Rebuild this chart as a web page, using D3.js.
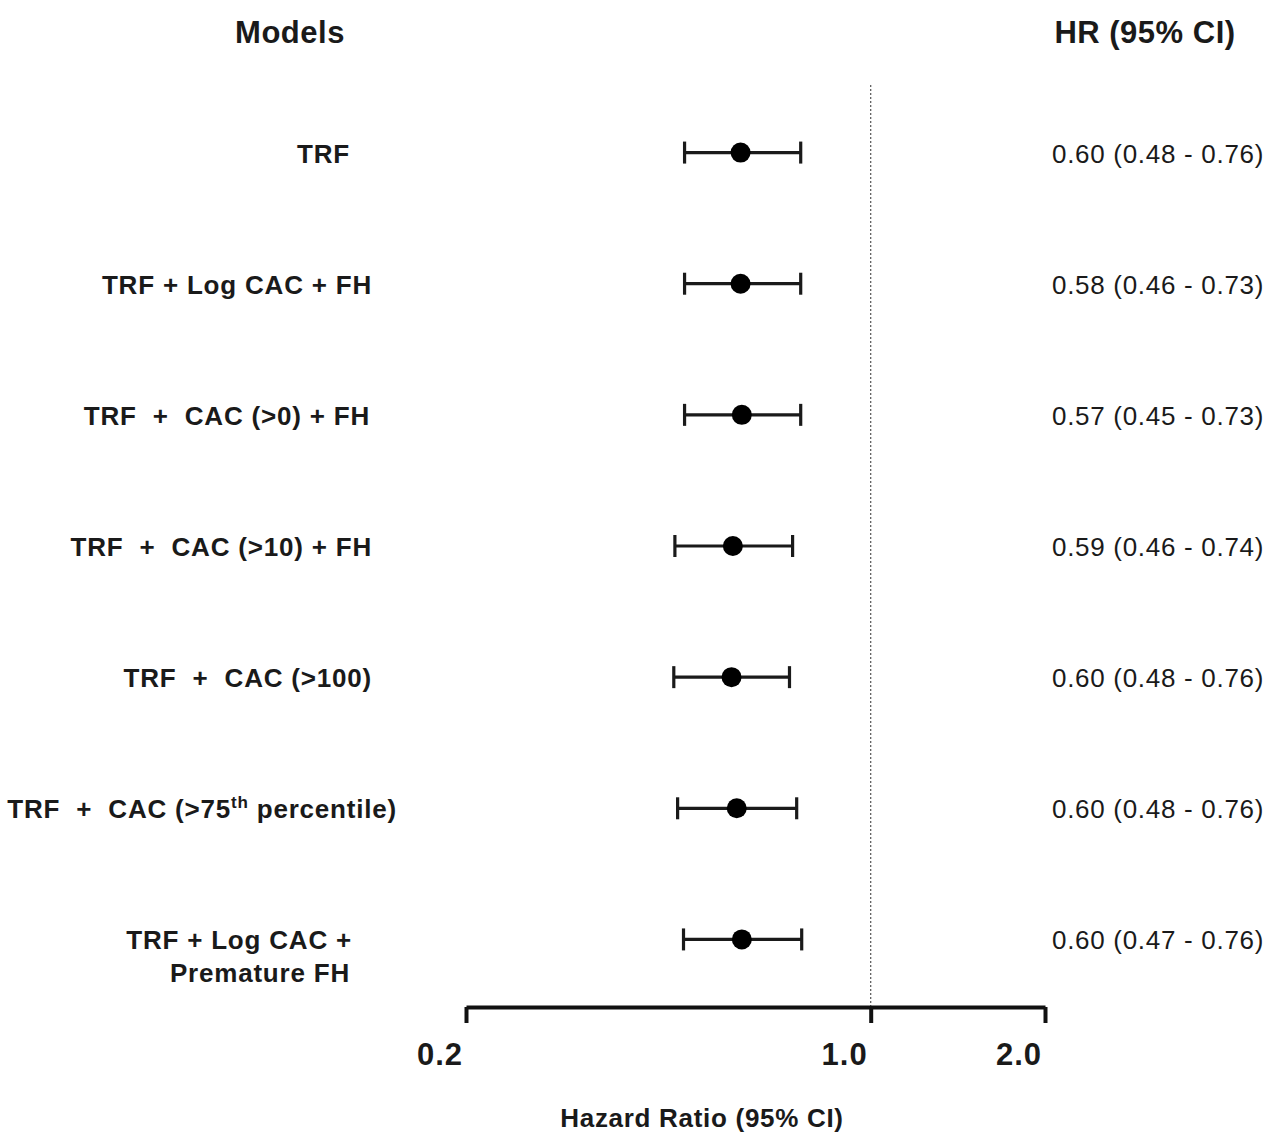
<!DOCTYPE html>
<html>
<head>
<meta charset="utf-8">
<script src="https://cdn.jsdelivr.net/npm/d3@7"></script>
<style>
  body { margin: 0; background: #fff; }
  svg text { font-family: "Liberation Sans", Arial, sans-serif; fill: #1a1a1a; }
</style>
</head>
<body>
<div id="chart"></div>
<script>
// model labels (line breaks allowed)
const models = [
    ["TRF"],
    ["TRF + Log CAC + FH"],
    ["TRF  +  CAC (>0) + FH"],
    ["TRF  +  CAC (>10) + FH"],
    ["TRF  +  CAC (>100)"],
    ["TRF  +  CAC (>75", "th", " percentile)"],
    ["TRF + Log CAC +", "Premature FH"]
];
// marker positions
const hr    = [0.596, 0.596, 0.599, 0.578, 0.575, 0.587, 0.599];
const lower = [0.477, 0.477, 0.477, 0.459, 0.457, 0.464, 0.475];
const upper = [0.757, 0.757, 0.757, 0.733, 0.724, 0.745, 0.760];
// printed estimates column
const hrText = [
    "0.60 (0.48 - 0.76)",
    "0.58 (0.46 - 0.73)",
    "0.57 (0.45 - 0.73)",
    "0.59 (0.46 - 0.74)",
    "0.60 (0.48 - 0.76)",
    "0.60 (0.48 - 0.76)",
    "0.60 (0.47 - 0.76)"
];
const tickValues = [0.2, 1.0, 2.0];
const tickLabels = ["0.2", "1.0", "2.0"];

const width = 1270, height = 1133;
const labelEnd = [350, 372, 370, 372, 372, 397, 352]; // right edge of each label

const svg = d3.select('#chart').append('svg')
    .attr('width', width)
    .attr('height', height);

const x = d3.scaleLog()
    .domain([0.2, 2])
    .range([466, 1045]);

const y = d3.scaleBand()
    .domain(d3.range(models.length))
    .range([88, 1006])
    .padding(0);

const rows = d3.range(models.length);

// headers
svg.append('text')
    .attr('x', 290).attr('y', 43)
    .attr('text-anchor', 'middle')
    .style('font-size', '31px').style('font-weight', 'bold')
    .style('letter-spacing', '0.5px')
    .text('Models');
svg.append('text')
    .attr('x', 1145).attr('y', 43)
    .attr('text-anchor', 'middle')
    .style('font-size', '31px').style('font-weight', 'bold')
    .style('letter-spacing', '0.5px')
    .text('HR (95% CI)');

// reference line at HR = 1
svg.append('line')
    .attr('x1', x(1)).attr('x2', x(1))
    .attr('y1', 85).attr('y2', 1006)
    .attr('stroke', '#555')
    .attr('stroke-width', 1.2)
    .attr('stroke-dasharray', '2,2');

// axis
const axis = svg.append('g')
    .attr('transform', 'translate(0,1007)')
    .call(d3.axisBottom(x).tickValues(tickValues).tickSize(16).tickSizeOuter(0).tickFormat(''));
axis.select('.domain').attr('stroke', '#111').attr('stroke-width', 4);
axis.selectAll('.tick line').attr('stroke', '#111').attr('stroke-width', 4);

svg.selectAll('.tick-label')
    .data(tickValues)
    .enter().append('text')
        .attr('class', 'tick-label')
        .attr('x', d => x(d) - 3)
        .attr('y', 1065)
        .attr('text-anchor', 'end')
        .style('font-size', '31px').style('font-weight', 'bold')
        .style('letter-spacing', '1px')
        .text((d, i) => tickLabels[i]);

svg.append('text')
    .attr('x', 702).attr('y', 1127)
    .attr('text-anchor', 'middle')
    .style('font-size', '26px').style('font-weight', 'bold')
    .style('letter-spacing', '0.7px')
    .text('Hazard Ratio (95% CI)');

const cy = i => y(i) + y.bandwidth() / 2 - 1;

// CI whiskers
svg.selectAll('.ci')
    .data(rows)
    .enter().append('line')
        .attr('class', 'ci')
        .attr('x1', i => x(lower[i])).attr('x2', i => x(upper[i]))
        .attr('y1', cy).attr('y2', cy)
        .attr('stroke', '#1a1a1a').attr('stroke-width', 3.2);

['lo', 'hi'].forEach(side => {
    svg.selectAll('.cap-' + side)
        .data(rows)
        .enter().append('line')
            .attr('class', 'cap-' + side)
            .attr('x1', i => x(side === 'lo' ? lower[i] : upper[i]))
            .attr('x2', i => x(side === 'lo' ? lower[i] : upper[i]))
            .attr('y1', i => cy(i) - 11).attr('y2', i => cy(i) + 11)
            .attr('stroke', '#1a1a1a').attr('stroke-width', 3.2);
});

svg.selectAll('.dot')
    .data(rows)
    .enter().append('circle')
        .attr('class', 'dot')
        .attr('cx', i => x(hr[i]))
        .attr('cy', cy)
        .attr('r', 10)
        .attr('fill', '#000');

// row labels
const labelStyle = t => t
    .attr('text-anchor', 'end')
    .style('font-size', '26px').style('font-weight', 'bold')
    .style('letter-spacing', '0.8px')
    .style('white-space', 'pre');

rows.forEach(i => {
    const m = models[i];
    const t = svg.append('text')
        .attr('x', labelEnd[i])
        .attr('y', cy(i) + 10)
        .call(labelStyle);
    if (i === 5) {
        t.append('tspan').text(m[0]);
        t.append('tspan').attr('dy', -10).style('font-size', '17px').text(m[1]);
        t.append('tspan').attr('dy', 10).text(m[2]);
    } else if (m.length === 2) {
        t.text(m[0]);
        svg.append('text')
            .attr('x', labelEnd[i] - 2)
            .attr('y', cy(i) + 43)
            .call(labelStyle)
            .text(m[1]);
    } else {
        t.text(m[0]);
    }
});

// estimates column
svg.selectAll('.hr-text')
    .data(rows)
    .enter().append('text')
        .attr('class', 'hr-text')
        .attr('x', 1052)
        .attr('y', i => cy(i) + 10)
        .style('font-size', '26px')
        .style('letter-spacing', '0.7px')
        .text(i => hrText[i]);
</script>
</body>
</html>
